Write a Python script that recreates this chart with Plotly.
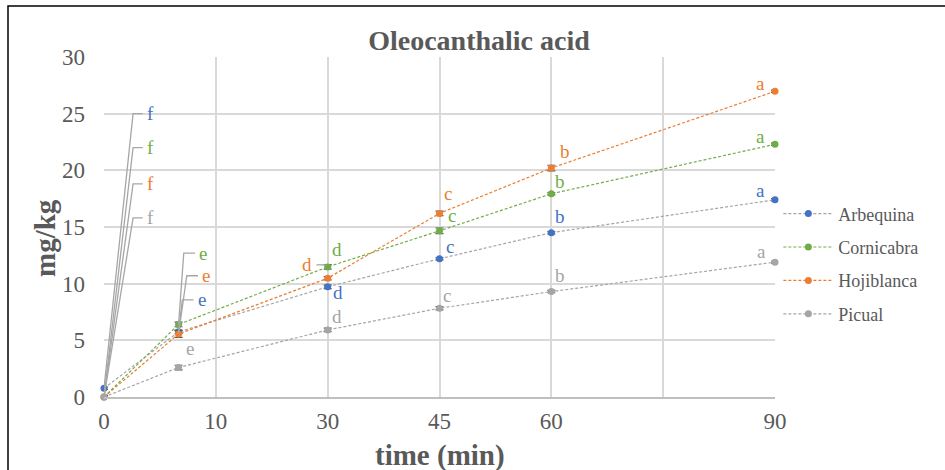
import plotly.graph_objects as go

# Sampling times (min)
times = [0, 10, 30, 45, 60, 90]

# Oleocanthalic acid content (mg/kg) per cultivar
arbequina = [0.77, 5.75, 9.72, 12.2, 14.5, 17.4]
cornicabra = [0.0, 6.4, 11.48, 14.66, 17.93, 22.3]
hojiblanca = [0.0, 5.56, 10.48, 16.2, 20.2, 26.97]
picual = [0.0, 2.6, 5.92, 7.83, 9.3, 11.9]

# Small standard deviations shown as error bars
arbequina_err = [0.1, 0.15, 0.15, 0.1, 0.1, 0.1]
cornicabra_err = [0.1, 0.2, 0.2, 0.25, 0.1, 0.1]
hojiblanca_err = [0.1, 0.3, 0.15, 0.2, 0.25, 0.1]
picual_err = [0.15, 0.2, 0.15, 0.15, 0.1, 0.1]

# Significance letters (same letters for every cultivar)
letters = ["f", "e", "d", "c", "b", "a"]

# Axis tick labels
x_tick_vals = [0, 15, 30, 45, 60, 75, 90]
x_tick_text = ["0", "10", "30", "45", "60", "", "90"]

BLUE = "#4472C4"
GREEN = "#70AD47"
ORANGE = "#ED7D31"
GRAY = "#A5A5A5"
TEXT = "#595959"
FONT = "Liberation Serif"

series = [
    ("Arbequina", arbequina, arbequina_err, BLUE, GRAY),
    ("Cornicabra", cornicabra, cornicabra_err, GREEN, GREEN),
    ("Hojiblanca", hojiblanca, hojiblanca_err, ORANGE, ORANGE),
    ("Picual", picual, picual_err, GRAY, GRAY),
]

# Where each letter is placed (data coordinates) and which ones get a leader line
label_pos = {
    "Arbequina": [(6.3, 25.0), (13.1, 8.57), (31.4, 9.2), (46.4, 13.25), (61.2, 15.9), (88.1, 18.2)],
    "Cornicabra": [(6.3, 22.0), (13.3, 12.7), (31.25, 13.0), (46.7, 16.05), (61.2, 19.0), (88.1, 23.0)],
    "Hojiblanca": [(6.3, 18.8), (13.7, 10.7), (27.2, 11.66), (46.1, 18.0), (61.8, 21.7), (88.1, 27.7)],
    "Picual": [(6.3, 15.8), (11.5, 4.24), (31.2, 7.07), (46.0, 9.0), (61.2, 10.7), (88.2, 12.8)],
}
leaders = {
    "Arbequina": [0, 1],
    "Cornicabra": [0, 1],
    "Hojiblanca": [0, 1, 2],
    "Picual": [0],
}

fig = go.Figure()
annotations = []
shapes = []

for name, vals, errs, mcolor, lcolor in series:
    fig.add_trace(go.Scatter(
        x=times, y=vals, name=name, legendgroup=name, mode="lines+markers",
        line=dict(color=lcolor, width=1.2, dash="3px,2px"),
        marker=dict(color=mcolor, size=7),
        error_y=dict(type="data", array=errs, color="#595959", thickness=1.2, width=4),
        cliponaxis=False, hoverinfo="skip",
    ))
    for i, (lx, ly) in enumerate(label_pos[name]):
        annotations.append(dict(
            x=lx, y=ly, xref="x", yref="y", text=letters[i], showarrow=False,
            font=dict(family=FONT, size=19, color=mcolor),
            xanchor="center", yanchor="middle",
        ))
        if i in leaders[name]:
            px, py = times[i], vals[i]
            if lx > px:
                elbow = lx - 2.4 if i == 0 else lx - 2.6
                end = lx - 1.1
                path = f"M {px},{py} L {elbow},{ly} L {end},{ly}"
            else:
                start = lx + 1.3
                path = f"M {start},{ly} L {px - 0.3},{ly}"
            shapes.append(dict(type="path", path=path, xref="x", yref="y",
                               line=dict(color="#A6A6A6", width=1.3), layer="above"))

# Axis titles
PLOT_W, PLOT_H = 671, 340
annotations.append(dict(
    text="<b>time (min)</b>", xref="paper", yref="paper",
    x=(440 - 104) / PLOT_W, y=-(455 - 397) / PLOT_H, xanchor="center", yanchor="middle",
    showarrow=False, font=dict(family=FONT, size=29, color=TEXT),
))
annotations.append(dict(
    text="<b>mg/kg</b>", xref="paper", yref="paper", textangle=-90,
    x=-(104 - 45) / PLOT_W, y=(397 - 238) / PLOT_H, xanchor="center", yanchor="middle",
    showarrow=False, font=dict(family=FONT, size=29, color=TEXT),
))

# Chart border (open on the right/bottom edges)
shapes.append(dict(type="rect", xref="paper", yref="paper",
                   x0=-96 / PLOT_W, x1=1.3, y0=-0.3, y1=1 + 51 / PLOT_H,
                   line=dict(color="black", width=1.5), layer="below"))

fig.update_layout(
    width=945, height=470,
    margin=dict(l=104, r=170, t=57, b=73),
    paper_bgcolor="white", plot_bgcolor="white",
    title=dict(text="<b>Oleocanthalic acid</b>", x=(479 - 104) / PLOT_W, xref="paper", xanchor="center",
               y=1 - 40 / 470, yanchor="middle",
               font=dict(family=FONT, size=28, color=TEXT)),
    font=dict(family=FONT, color=TEXT),
    showlegend=True,
    legend=dict(x=1.005, xanchor="left", y=0.593, yanchor="top",
                font=dict(family=FONT, size=18, color=TEXT),
                itemwidth=50, bgcolor="rgba(0,0,0,0)", tracegroupgap=7),
    annotations=annotations,
    shapes=shapes,
)

fig.update_xaxes(
    range=[0, 90], tickmode="array", tickvals=x_tick_vals, ticktext=x_tick_text,
    showgrid=True, gridcolor="#D9D9D9", gridwidth=1.5,
    showline=True, linecolor="#BFBFBF", linewidth=1.5, automargin=False,
    zeroline=False, ticks="", ticklabelstandoff=3,
    tickfont=dict(family=FONT, size=23, color=TEXT),
)
fig.update_yaxes(
    range=[0, 30], dtick=5, showgrid=True, gridcolor="#D9D9D9", gridwidth=1.5,
    zeroline=False, showline=False, ticks="", ticklabelstandoff=18, automargin=False,
    tickfont=dict(family=FONT, size=23, color=TEXT),
)

fig.write_html("out.html")
